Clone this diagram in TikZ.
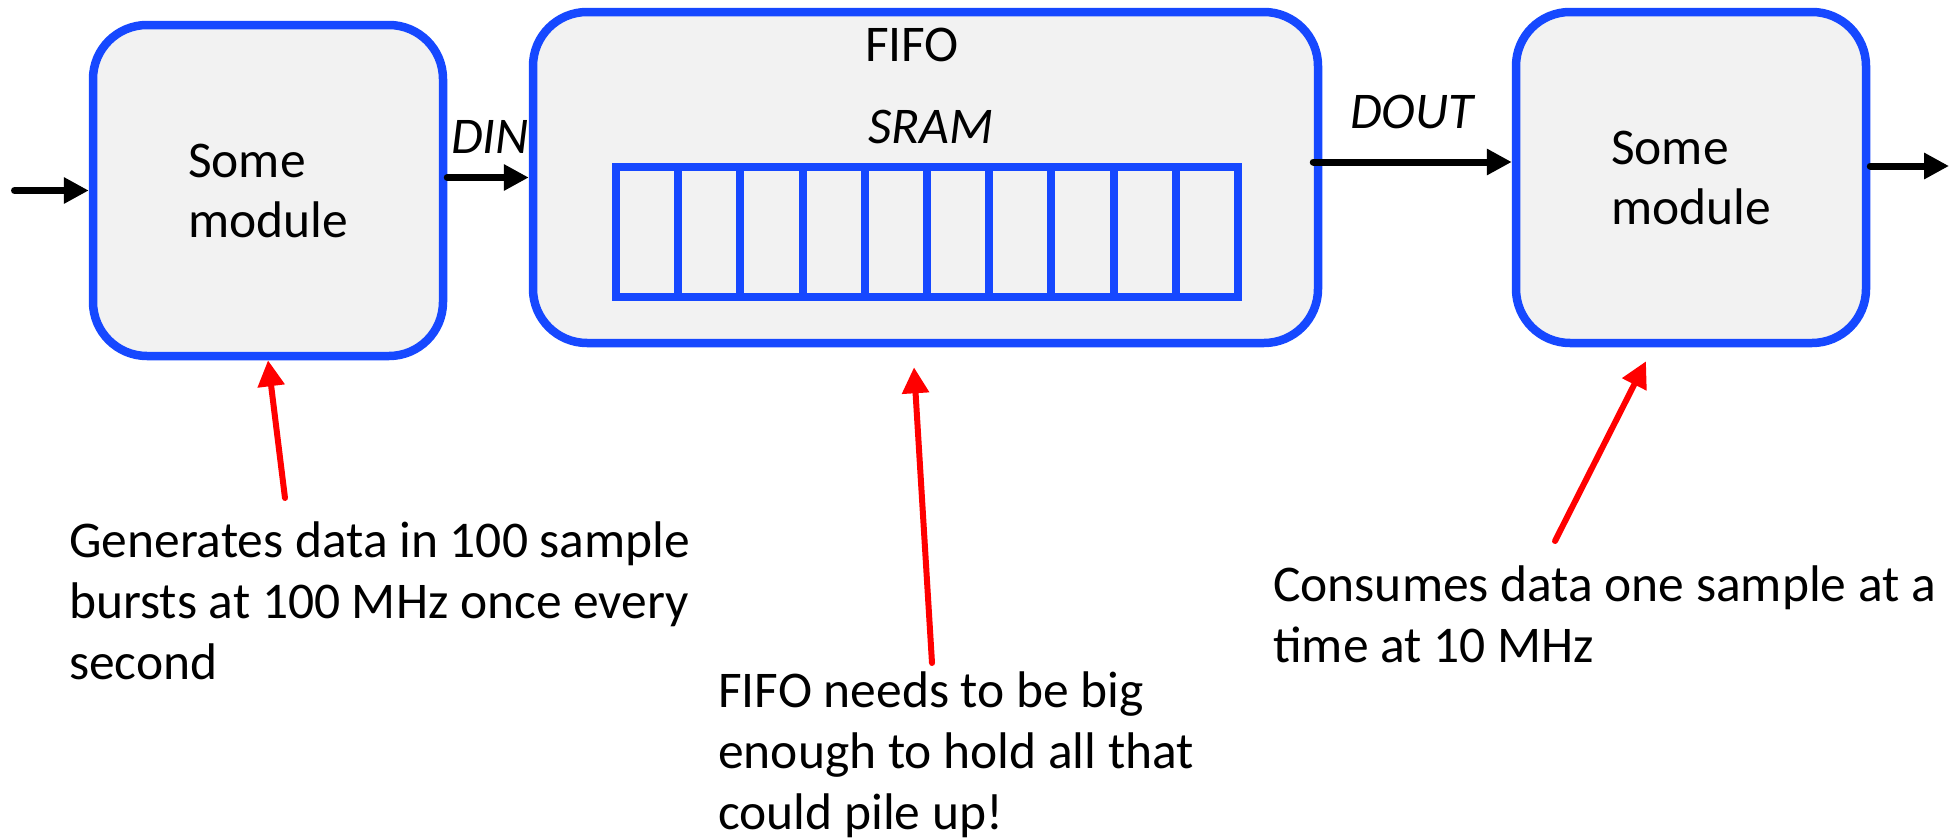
\documentclass[tikz,border=0pt]{standalone}
\usepackage{fontspec}
\setmainfont{Carlito}
\usetikzlibrary{arrows.meta,calc}
\definecolor{boxblue}{RGB}{22,72,255}
\definecolor{boxfill}{RGB}{242,242,242}
\definecolor{callred}{RGB}{255,0,0}
\tikzset{
  modbox/.style={draw=boxblue, fill=boxfill, line width=8.5pt, rounded corners=54pt,
    inner sep=0pt, align=left, font=\fontsize{51.5}{60}\selectfont},
  cellbox/.style={draw=boxblue, line width=8pt, inner sep=0pt,
    minimum width=62.2pt, minimum height=130pt},
  lbl/.style={inner sep=0pt, font=\fontsize{51.5}{60}\selectfont},
  ilbl/.style={inner sep=0pt, font=\fontsize{51.5}{60}\selectfont\itshape},
  note/.style={inner sep=0pt, align=left, font=\fontsize{51.5}{61}\selectfont},
  flow/.style={line width=7pt, line cap=round, -{Triangle[length=25pt,width=25pt]}},
  callout/.style={draw=callred, line width=6pt, line cap=round, -{Triangle[length=26pt,width=26pt]}}
}
\begin{document}
\begin{tikzpicture}[x=1pt,y=-1pt]
\useasboundingbox (0,0) rectangle (1959,838);

% modules
\node[modbox, minimum width=350pt, minimum height=331pt] (m1) at (268,190.5) {Some\\module};
\node[modbox, minimum width=785pt, minimum height=331pt] (fifo) at (925.5,177.5) {};
\node[modbox, minimum width=350pt, minimum height=331pt] (m3) at (1691,177.5) {Some\\module};

% FIFO labels
\node[lbl, anchor=base] (fifolbl) at (912,61) {FIFO};
\node[ilbl, anchor=base] (sramlbl) at (931,143) {SRAM};

% SRAM cells
\foreach \i in {0,...,9} {
  \node[cellbox] (cell\i) at ({647.1+62.2*\i},232) {};
}

% signal labels
\node[ilbl, anchor=base west] (din) at (451,153) {DIN};
\node[ilbl, anchor=base west] (dout) at (1350,128) {DOUT};

% flow arrows
\coordinate (inS) at (14.5,190.5);
\coordinate (outE) at (1949,166);
\draw[flow] (inS) -- (m1.west);
\draw[flow] (m1.east |- fifo.west) -- (fifo.west);
\draw[flow] ([xshift=-9pt,yshift=15.5pt]fifo.east) -- ([yshift=15.5pt]m3.west);
\draw[flow] ([yshift=11.5pt]m3.east) -- (outE);

% notes
\node[note, anchor=base west] (note1) at (69,679) {Generates data in 100 sample\\bursts at 100 MHz once every\\second};
\node[note, anchor=base west] (note2) at (718,829) {FIFO needs to be big\\enough to hold all that\\could pile up!};
\node[note, anchor=base west] (note3) at (1273,662) {Consumes data one sample at a\\time at 10 MHz};

% callouts
\coordinate (t1) at (285,498);
\coordinate (t2) at (932,663);
\coordinate (t3) at (1555,541);
\draw[callout] (t1) -- (m1.south);
\draw[callout] (t2) -- ([xshift=-11.5pt,yshift=-20pt]fifo.south);
\draw[callout] (t3) -- ([xshift=-45pt,yshift=-14pt]m3.south);
\end{tikzpicture}
\end{document}
